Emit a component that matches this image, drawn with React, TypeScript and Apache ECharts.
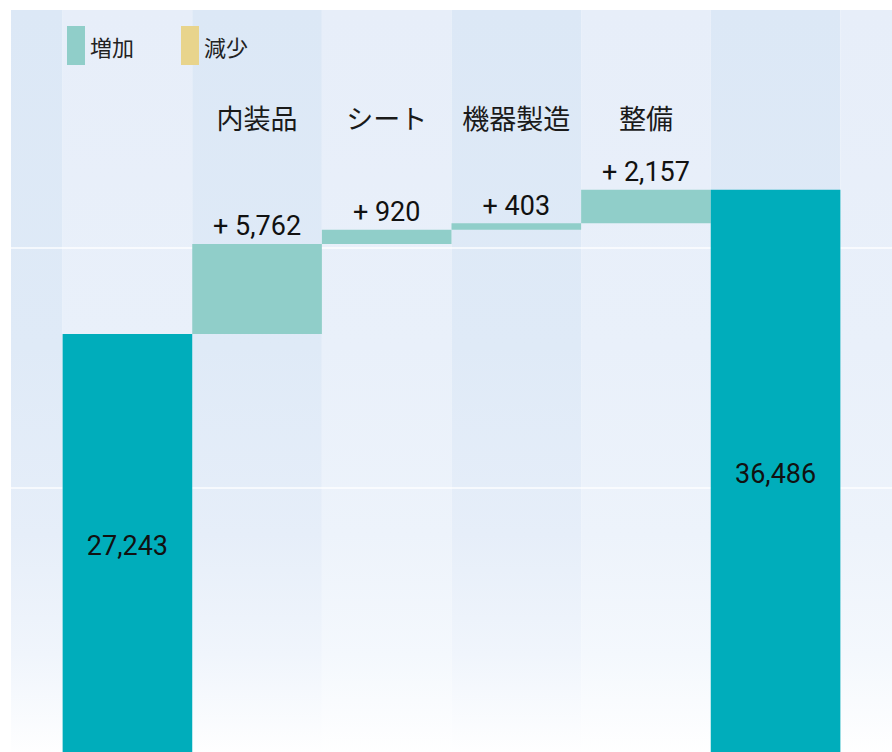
import React, { useEffect, useRef } from "react";
import * as echarts from "echarts";

// categories (first and last are padding columns; 2nd and 7th are the unnamed totals)
const categories = ["", "", "内装品", "シート", "機器製造", "整備", "", ""];
const startTotal = 27243;
const endTotal = 36486;
const increases: (number | string)[] = ["-", "-", 5762, 920, 403, 2157, "-", "-"];
const decreases: (number | string)[] = ["-", "-", "-", "-", "-", "-", "-", "-"];
const totals: (number | string)[] = ["-", startTotal, "-", "-", "-", "-", endTotal, "-"];
const gridLineValues = [17400, 32750];
const legendNames = ["増加", "減少"];

function buildBase(): (number | string)[] {
  const base: (number | string)[] = [];
  let run = startTotal;
  for (let i = 0; i < categories.length; i++) {
    const inc = increases[i];
    const dec = decreases[i];
    if (typeof inc === "number") {
      base.push(run);
      run += inc;
    } else if (typeof dec === "number") {
      run -= dec;
      base.push(run);
    } else {
      base.push("-");
    }
  }
  return base;
}

const fmt = (v: number) => v.toLocaleString("en-US");
const numFont = '"Liberation Sans Narrow", "Roboto", "Liberation Sans", sans-serif';
const cjkFont = '"Noto Sans CJK JP", "Noto Sans", sans-serif';

export default function App() {
  const ref = useRef<HTMLDivElement>(null);
  useEffect(() => {
    if (!ref.current) return;
    const chart = echarts.init(ref.current, undefined, { renderer: "svg" });
    const grad = (stops: [number, string][]) =>
      new echarts.graphic.LinearGradient(
        0,
        0,
        0,
        1,
        stops.map(([offset, color]) => ({ offset, color }))
      );
    const darkStripe = grad([
      [0, "#dce8f6"],
      [0.45, "#dfeaf7"],
      [0.7, "#e6eef9"],
      [0.86, "#f0f5fc"],
      [1, "#ffffff"],
    ]);
    const lightStripe = grad([
      [0, "#e7eef9"],
      [0.45, "#e9f0fa"],
      [0.7, "#edf3fb"],
      [0.86, "#f4f8fd"],
      [1, "#ffffff"],
    ]);
    const option: any = {
      animation: false,
      legend: {
        data: legendNames,
        left: 129,
        top: 11,
        icon: "rect",
        itemWidth: 18,
        itemHeight: 39,
        itemGap: 47,
        textStyle: { fontSize: 22, color: "#222", fontFamily: cjkFont },
        selectedMode: false,
      },
      grid: { left: 0, right: 0, top: 0, bottom: 0, containLabel: false },
      xAxis: {
        type: "category",
        data: categories,
        position: "top",
        axisLine: { show: false },
        axisTick: { show: false },
        axisLabel: {
          inside: true,
          margin: 94,
          fontSize: 27,
          color: "#1a1a1a",
          fontFamily: cjkFont,
          interval: 0,
        },
        splitArea: { show: true, areaStyle: { color: [darkStripe, lightStripe] } },
      },
      yAxis: {
        type: "value",
        min: 0,
        max: 48000,
        axisLine: { show: false },
        axisTick: { show: false },
        axisLabel: { show: false },
        splitLine: { show: false },
      },
      series: [
        {
          name: "base",
          type: "bar",
          stack: "wf",
          data: buildBase(),
          barWidth: "100%",
          itemStyle: { color: "rgba(0,0,0,0)" },
          silent: true,
          markLine: {
            silent: true,
            z: 1,
            symbol: "none",
            label: { show: false },
            lineStyle: { color: "rgba(255,255,255,0.9)", width: 1.5, type: "solid" },
            data: gridLineValues.map((v) => ({ yAxis: v })),
          },
        },
        {
          name: "増加",
          type: "bar",
          stack: "wf",
          data: increases,
          barWidth: "100%",
          itemStyle: { color: "#90cec9" },
          label: {
            show: true,
            position: "top",
            distance: 4,
            fontSize: 27,
            color: "#111",
            fontFamily: numFont,
            formatter: (p: any) => "+ " + fmt(p.value),
          },
        },
        {
          name: "減少",
          type: "bar",
          stack: "wf",
          data: decreases,
          barWidth: "100%",
          itemStyle: { color: "#e8d48c" },
          label: {
            show: true,
            position: "bottom",
            fontSize: 27,
            color: "#111",
            fontFamily: numFont,
            formatter: (p: any) => "- " + fmt(p.value),
          },
        },
        {
          name: "合計",
          type: "bar",
          stack: "wf",
          data: totals,
          barWidth: "100%",
          itemStyle: { color: "#00adbb" },
          label: {
            show: true,
            position: "inside",
            fontSize: 27,
            color: "#111",
            fontFamily: numFont,
            formatter: (p: any) => fmt(p.value),
          },
        },
      ],
    };
    chart.setOption(option);
    return () => chart.dispose();
  }, []);
  return (
    <div
      style={{
        position: "absolute",
        left: 11,
        top: 10,
        width: 881,
        height: 742,
        overflow: "hidden",
      }}
    >
      <div
        ref={ref}
        style={{ position: "absolute", left: -77.67, top: 0, width: 1037.3, height: 749 }}
      />
    </div>
  );
}
